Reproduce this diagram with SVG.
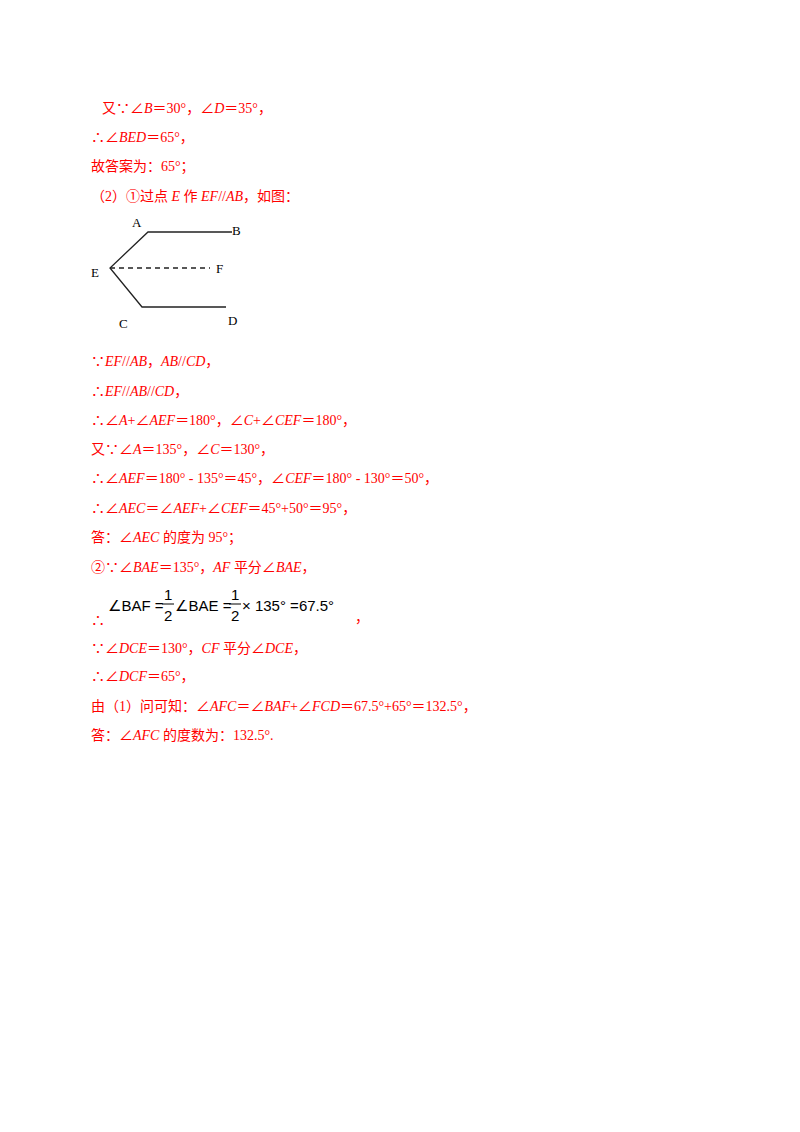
<svg xmlns="http://www.w3.org/2000/svg" width="800" height="1132" viewBox="0 0 800 1132">
<style>
.t{font-family:"Liberation Serif","Noto Sans CJK SC",serif;font-size:14px;fill:#ff0000}
.i{font-style:italic}
.k{font-family:"Liberation Serif",serif;font-size:13px;fill:#000}
.f{font-family:"Liberation Sans","DejaVu Sans",sans-serif;font-size:15px;fill:#000}
.ln{stroke:#222;stroke-width:1.3;fill:none}
</style>
<rect width="800" height="1132" fill="#fff"/>
<text class="t" x="102" y="113">又∵∠<tspan class="i">B</tspan>＝30°，∠<tspan class="i">D</tspan>＝35°，</text>
<text class="t" x="91" y="142">∴∠<tspan class="i">BED</tspan>＝65°，</text>
<text class="t" x="91" y="171">故答案为：65°；</text>
<text class="t" x="91" y="201">（2）<tspan>①</tspan>过点 <tspan class="i">E</tspan> 作 <tspan class="i">EF</tspan>//<tspan class="i">AB</tspan>，如图：</text>
<g id="figure">
<path class="ln" d="M232,232 H148 L110,268 L142,307 H226"/>
<path class="ln" d="M110,268 H210" stroke-dasharray="5,4"/>
<text class="k" x="132" y="227">A</text>
<text class="k" x="232" y="235">B</text>
<text class="k" x="91" y="277">E</text>
<text class="k" x="216" y="273">F</text>
<text class="k" x="119" y="328">C</text>
<text class="k" x="228" y="325">D</text>
</g>
<text class="t" x="91" y="366">∵<tspan class="i">EF</tspan>//<tspan class="i">AB</tspan>，<tspan class="i">AB</tspan>//<tspan class="i">CD</tspan>，</text>
<text class="t" x="91" y="396">∴<tspan class="i">EF</tspan>//<tspan class="i">AB</tspan>//<tspan class="i">CD</tspan>，</text>
<text class="t" x="91" y="425">∴∠<tspan class="i">A</tspan>+∠<tspan class="i">AEF</tspan>＝180°，∠<tspan class="i">C</tspan>+∠<tspan class="i">CEF</tspan>＝180°，</text>
<text class="t" x="91" y="454">又∵∠<tspan class="i">A</tspan>＝135°，∠<tspan class="i">C</tspan>＝130°，</text>
<text class="t" x="91" y="483">∴∠<tspan class="i">AEF</tspan>＝180° - 135°＝45°，∠<tspan class="i">CEF</tspan>＝180° - 130°＝50°，</text>
<text class="t" x="91" y="513">∴∠<tspan class="i">AEC</tspan>＝∠<tspan class="i">AEF</tspan>+∠<tspan class="i">CEF</tspan>＝45°+50°＝95°，</text>
<text class="t" x="91" y="542">答：∠<tspan class="i">AEC</tspan> 的度为 95°；</text>
<text class="t" x="91" y="572">②∵∠<tspan class="i">BAE</tspan>＝135°，<tspan class="i">AF</tspan> 平分∠<tspan class="i">BAE</tspan>，</text>
<text class="t" x="91" y="625">∴</text>
<g id="formula">
<text class="f" x="108" y="611">∠BAF =</text>
<text class="f" x="164" y="600">1</text>
<line x1="162" y1="604" x2="174" y2="604" stroke="#000" stroke-width="1"/>
<text class="f" x="164" y="621">2</text>
<text class="f" x="175" y="611">∠BAE =</text>
<text class="f" x="231" y="600">1</text>
<line x1="229" y1="604" x2="241" y2="604" stroke="#000" stroke-width="1"/>
<text class="f" x="231" y="621">2</text>
<text class="f" x="242" y="611">× 135°  =67.5°</text>
</g>
<text class="t" x="355" y="622">，</text>
<text class="t" x="91" y="653">∵∠<tspan class="i">DCE</tspan>＝130°，<tspan class="i">CF</tspan> 平分∠<tspan class="i">DCE</tspan>，</text>
<text class="t" x="91" y="681">∴∠<tspan class="i">DCF</tspan>＝65°，</text>
<text class="t" x="91" y="711">由（1）问可知：∠<tspan class="i">AFC</tspan>＝∠<tspan class="i">BAF</tspan>+∠<tspan class="i">FCD</tspan>＝67.5°+65°＝132.5°，</text>
<text class="t" x="91" y="740">答：∠<tspan class="i">AFC</tspan> 的度数为：132.5°.</text>
</svg>
